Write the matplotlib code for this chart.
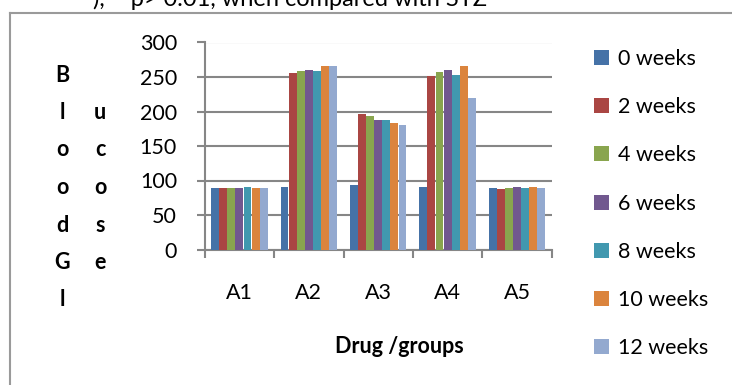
import matplotlib
matplotlib.use("Agg")
import matplotlib.pyplot as plt
import numpy as np

plt.rcParams["font.family"] = ["Lato", "DejaVu Sans"]

groups = ["A1", "A2", "A3", "A4", "A5"]
series = ["0 weeks", "2 weeks", "4 weeks", "6 weeks", "8 weeks", "10 weeks", "12 weeks"]
w0 = [89.5, 90.5, 94, 90.5, 88.5]
w2 = [89.5, 256, 197, 252, 87.5]
w4 = [89.5, 258, 194, 257, 89.5]
w6 = [89.5, 260.5, 188, 260.5, 91]
w8 = [91, 258, 188, 253.5, 89.5]
w10 = [89.5, 265.5, 183, 266, 91]
w12 = [88.5, 266.5, 180, 220, 89.5]
values = [w0, w2, w4, w6, w8, w10, w12]
colors = ["#4572A7", "#AA4643", "#89A54E", "#71588F", "#4198AF", "#DB843D", "#93A9CF"]

W, H = 732, 385
fig = plt.figure(figsize=(W / 100, H / 100), dpi=100)

def fx(px):
    return px / W

def fy(py):
    return 1 - py / H

ax = fig.add_axes([fx(204.7), fy(249.5), fx(551.7) - fx(204.7), fy(42.5) - fy(249.5)])

grey = "#868686"
x = np.arange(len(groups))
bw = 0.817 / len(series)
handles = []
for i, (vals, c) in enumerate(zip(values, colors)):
    off = (i - (len(series) - 1) / 2) * bw
    h = ax.bar(x + off, vals, width=bw * 0.97, color=c, edgecolor="none", zorder=3)
    handles.append(h)

ax.set_xlim(-0.5, len(groups) - 0.5)
ax.set_ylim(0, 300)
ax.set_yticks(np.arange(0, 301, 50))
ax.yaxis.grid(True, color=grey, linewidth=1.5, zorder=0)
ax.set_axisbelow(True)
for s in ["top", "right"]:
    ax.spines[s].set_visible(False)
for s in ["left", "bottom"]:
    ax.spines[s].set_color(grey)
    ax.spines[s].set_linewidth(1.5)

ax.set_xticks(np.arange(-0.5, len(groups), 1.0))
ax.set_xticklabels([])
ax.tick_params(axis="x", length=6, width=1.5, color=grey, direction="out")
ax.tick_params(axis="y", length=6, width=1.5, color=grey, direction="out",
               labelsize=15.5, pad=14)
ax.set_xticks(x, minor=True)
ax.set_xticklabels(groups, minor=True, fontsize=15.5)
ax.tick_params(axis="x", which="minor", length=0, pad=24)

fig.text(fx(399), fy(346.7), "Drug /groups", fontsize=15.5, fontweight="bold",
         ha="center", va="center")

col1 = "BloodGl"
col2 = "ucose"
for k, ch in enumerate(col1):
    fig.text(fx(62), fy(75 + 37.5 * k), ch, fontsize=15.5, fontweight="bold",
             ha="center", va="center")
for k, ch in enumerate(col2):
    fig.text(fx(100), fy(112.5 + 37.5 * k), ch, fontsize=15.5, fontweight="bold",
             ha="center", va="center")

fig.legend(handles, series, loc="upper left", bbox_to_anchor=(fx(594), fy(49)),
           frameon=False, fontsize=15.5, handlelength=0.7, handleheight=0.7,
           handletextpad=0.4, labelspacing=1.31, borderaxespad=0, borderpad=0)

# chart border (partly cut off) and clipped caption above it
fig.add_artist(plt.Line2D([fx(10), fx(10)], [fy(13), 0], color="#9a9a9a", linewidth=1.5))
fig.add_artist(plt.Line2D([fx(10), 1], [fy(13), fy(13)], color="#9a9a9a", linewidth=1.5))
fig.text(fx(487), fy(5.5), "),** p> 0.01, when compared with STZ", fontsize=17,
         ha="right", va="baseline")

fig.savefig("out.png", dpi=100)
